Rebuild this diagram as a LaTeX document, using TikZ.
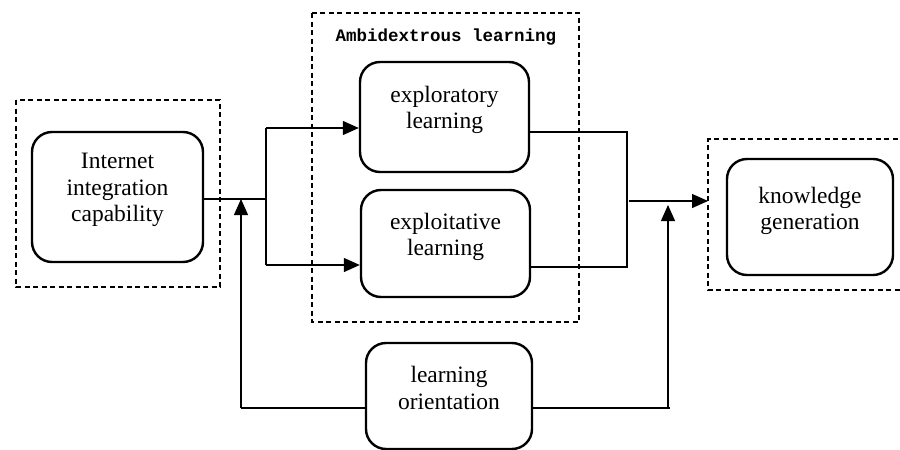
\documentclass[tikz,border=0pt]{standalone}
\usepackage{fontspec}
\setmainfont{Liberation Serif}
\newfontfamily\monofont{Liberation Mono}
\usetikzlibrary{arrows.meta}
\begin{document}
\begin{tikzpicture}[x=1pt,y=-1pt,
  box/.style={draw, line width=2.4pt, rounded corners=20pt, inner sep=0pt},
  txt/.style={align=center, font=\fontsize{23.5}{26.5}\selectfont, inner sep=0pt},
  grp/.style={draw, line width=1.1pt, dash pattern=on 5pt off 3.5pt},
  conn/.style={line width=1.3pt},
  arr/.style={conn, -{Triangle[length=16pt,width=14pt]}}]
\useasboundingbox (0,0) rectangle (900,450);
% group frames
\draw[grp] (16,100) rectangle (220,287);
\draw[grp] (312,13) rectangle (579,322);
\draw[grp] (906,139) -- (708,139) -- (708,290) -- (906,290);
\node[font=\monofont\bfseries\fontsize{17.5}{20}\selectfont, inner sep=0pt] (title) at (446,37) {Ambidextrous learning};
% boxes
\node[box, minimum width=171pt, minimum height=130pt] (int) at (117.5,197) {};
\node[txt] (intt) at (117.5,190) {Internet\\integration\\capability};
\node[box, minimum width=169pt, minimum height=110pt] (expl) at (444.5,117) {};
\node[txt] (explt) at (444.5,110) {exploratory\\learning};
\node[box, minimum width=169pt, minimum height=107pt] (expt) at (445.5,243.5) {};
\node[txt] (exptt) at (445.5,237) {exploitative\\learning};
\node[box, minimum width=166pt, minimum height=116pt] (kg) at (810,217) {};
\node[txt] (kgt) at (810,211) {knowledge\\generation};
\node[box, minimum width=166pt, minimum height=106pt] (lo) at (449,396) {};
\node[txt] (lot) at (449,388) {learning\\orientation};
% connectors
\coordinate (s) at (266,199);
\coordinate (s1) at (266,128);
\coordinate (s2) at (266,265);
\draw[conn] (int.east |- s) -- (s);
\draw[conn] (s1) -- (s2);
\draw[arr] (s1) -- (s1 -| expl.west);
\draw[arr] (s2) -- (s2 -| expt.west);
\coordinate (b1) at (241,408);
\draw[conn] (lo.west |- b1) -- (b1);
\draw[arr] (b1) -- (b1 |- s);
\coordinate (m1) at (627,132);
\coordinate (m2) at (627,267);
\draw[conn] (expl.east |- m1) -- (m1) -- (m2) -- (expt.east |- m2);
\coordinate (j) at (629,201);
\coordinate (kin) at (708,201);
\draw[arr] (j) -- (kin);
\coordinate (b2) at (668,408);
\coordinate (b3) at (670,408);
\coordinate (b4) at (668,205);
\draw[conn] (lo.east |- b2) -- (b3);
\draw[arr] (b2) -- (b4);
\end{tikzpicture}
\end{document}
